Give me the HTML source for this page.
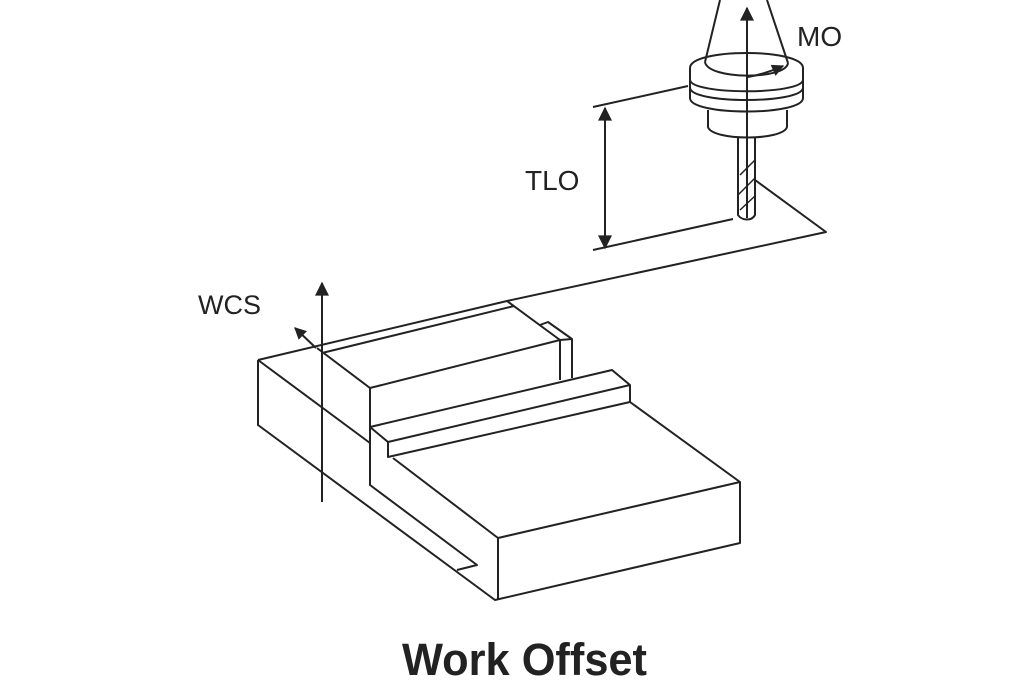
<!DOCTYPE html>
<html><head><style>html,body{margin:0;padding:0;background:#fff}svg{display:block}</style></head>
<body>
<svg width="1024" height="683" viewBox="0 0 1024 683" xmlns="http://www.w3.org/2000/svg">
<defs>
<marker id="ah" viewBox="0 0 10 10" refX="9" refY="5" markerWidth="14" markerHeight="12" orient="auto-start-reverse" markerUnits="userSpaceOnUse"><path d="M0,0 L10,5 L0,10 z" fill="#222"/></marker>
<marker id="ah2" viewBox="0 0 10 10" refX="9" refY="5" markerWidth="26" markerHeight="14" orient="auto-start-reverse" markerUnits="userSpaceOnUse"><path d="M0,0 L10,5 L0,10 z" fill="#222"/></marker>
</defs>
<g fill="none" stroke="#222" stroke-width="2" stroke-linejoin="round">
<!-- work block -->
<path d="M258,360 L507,301 L560,340 L560,380"/>
<path d="M317,348 L370,388 L560,340"/>
<path d="M322,353 L514,306"/>
<path d="M540,325 L548,322 L572,339 L572,378 M560,340 L572,339"/>
<path d="M370,388 L370,427"/>
<path d="M258,360 L258,425 L495,600 L740,543 L740,482 L630,402 L630,385 L612,370 L370,427 L370,485 L477,565 L457,570"/>
<path d="M258,360 L370,443"/>
<path d="M370,427 L388,442 L630,385"/>
<path d="M388,442 L388,457 L630,402"/>
<path d="M393,458 L498,538 L740,482"/>
<path d="M498,538 L498,600"/>
<!-- reference lines -->
<path d="M507,301 L826,232 L755,180"/>
<path d="M593,107 L688,86"/>
<path d="M593,250 L733,219"/>
<!-- TLO dimension -->
<line x1="605" y1="108" x2="605" y2="248" marker-start="url(#ah2)" marker-end="url(#ah2)"/>
<!-- WCS -->
<line x1="322" y1="502" x2="322" y2="283" marker-end="url(#ah2)"/>
<line x1="316" y1="348" x2="295" y2="328" marker-end="url(#ah)"/>
<!-- tool -->
<path d="M720,0 L705,62 M767,0 L788,63"/>
<path d="M690,68 C690,48 803,48 803,68 L803,98 C803,116 690,116 690,98 Z"/>
<path d="M705,62 C708,80 786,80 788,63"/>
<path d="M690,80 C692,95 801,95 803,80"/>
<path d="M690,88 C692,104 801,104 803,88"/>
<path d="M708,110 L708,127 C712,141 783,141 787,127 L787,110"/>
<path d="M738,137 L738,215 C742,221 752,221 755,215 L755,137"/>
<path d="M740,175 L755,160 M738,195 L755,178 M740,210 L755,196" stroke-width="1.5"/>
<line x1="747" y1="218" x2="747" y2="8" marker-end="url(#ah2)"/>
<path d="M748,77 Q765,74 783,66" marker-end="url(#ah)"/>
</g>
<g font-family="Liberation Sans, sans-serif" fill="#222">
<text x="198" y="314" font-size="27">WCS</text>
<text x="525" y="190" font-size="28">TLO</text>
<text x="797" y="46" font-size="28">MO</text>
<text x="402" y="675" font-size="45" font-weight="bold" textLength="245" lengthAdjust="spacingAndGlyphs">Work Offset</text>
</g>
</svg>
</body></html>
